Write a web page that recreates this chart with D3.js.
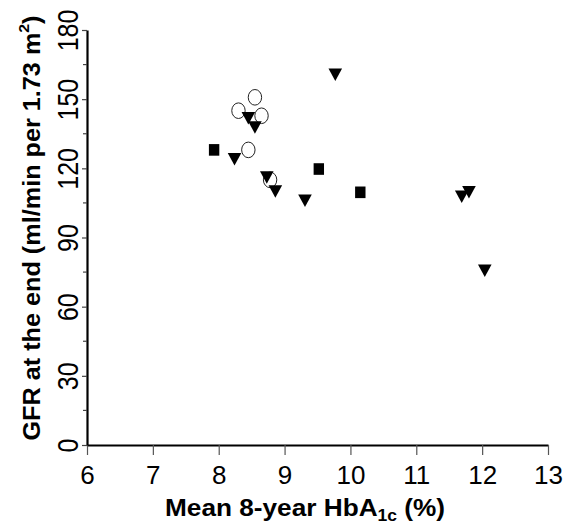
<!DOCTYPE html>
<html>
<head>
<meta charset="utf-8">
<script src="https://cdn.jsdelivr.net/npm/d3@7"></script>
<style>
  body { margin: 0; background: #fff; }
  svg { display: block; font-family: "Liberation Sans", Arial, sans-serif; }
</style>
</head>
<body>
<div id="chart"><svg width="563" height="523"></svg></div>
<script>
// open circles
const circleX = [8.55, 8.30, 8.65, 8.45, 8.78]
const circleY = [150.8, 145, 142.8, 128, 115]

// filled down triangles
const triX = [9.77, 8.45, 8.55, 8.24, 8.73, 8.86, 9.31, 11.69, 11.80, 12.04]
const triY = [160.9, 142, 138, 124.3, 116.4, 110.3, 106.3, 108, 110, 75.9]

// filled squares
const sqX = [7.93, 9.52, 10.15]
const sqY = [128, 119.7, 109.6]

const xTicks = [6, 7, 8, 9, 10, 11, 12, 13]
const yTicks = [0, 30, 60, 90, 120, 150, 180]
const yMinor = [15, 45, 75, 105, 135, 165]

const svg = d3.select('#chart svg')

const x = d3.scaleLinear().domain([6, 13]).range([87, 548])
const y = d3.scaleLinear().domain([0, 180]).range([445, 30])

// x axis
const xAxis = svg.append('g')
    .attr('transform', `translate(0,${y(0)})`)
    .call(d3.axisBottom(x).tickValues(xTicks).tickFormat(d3.format('d'))
        .tickSize(10).tickSizeOuter(0).tickPadding(11))
xAxis.select('.domain').attr('stroke', '#000').attr('stroke-width', 2.2)
xAxis.selectAll('.tick line').attr('stroke', '#555').attr('stroke-width', 1.2)
xAxis.selectAll('.tick text')
    .attr('fill', '#000')
    .style('font-size', '26px')

// y axis
const yAxis = svg.append('g')
    .attr('transform', `translate(${x(6)},0)`)
    .call(d3.axisLeft(y).tickValues(yTicks).tickFormat(d3.format('d'))
        .tickSize(5).tickSizeOuter(0))
yAxis.select('.domain').attr('stroke', '#000').attr('stroke-width', 2.2)
yAxis.selectAll('.tick line').attr('stroke', '#444').attr('stroke-width', 1.2)
yAxis.selectAll('.tick text')
    .attr('fill', '#000')
    .style('font-size', '25px')
    .attr('text-anchor', 'middle')
    .attr('x', null)
    .attr('dy', null)
    .attr('transform', 'translate(-9,0) rotate(-90) scale(1,1.15)')

svg.append('g')
    .selectAll('line')
    .data(yMinor)
    .join('line')
    .attr('x1', x(6) - 4)
    .attr('x2', x(6))
    .attr('y1', d => y(d))
    .attr('y2', d => y(d))
    .attr('stroke', '#444')
    .attr('stroke-width', 1.2)

// axis titles
svg.append('text')
    .attr('transform', 'translate(40,228) rotate(-90)')
    .attr('text-anchor', 'middle')
    .style('font-size', '24px')
    .style('font-weight', 'bold')
    .attr('textLength', 425)
    .attr('lengthAdjust', 'spacingAndGlyphs')
    .call(t => t.append('tspan').text('GFR at the end (ml/min per 1.73 m'))
    .call(t => t.append('tspan').text('2').attr('dy', -11).style('font-size', '15px'))
    .call(t => t.append('tspan').text(')').attr('dy', 11))

svg.append('text')
    .attr('x', 305)
    .attr('y', 516)
    .attr('text-anchor', 'middle')
    .style('font-size', '24px')
    .style('font-weight', 'bold')
    .attr('textLength', 280)
    .attr('lengthAdjust', 'spacingAndGlyphs')
    .call(t => t.append('tspan').text('Mean 8-year HbA'))
    .call(t => t.append('tspan').text('1c').attr('dy', 5).style('font-size', '16px'))
    .call(t => t.append('tspan').text(' (%)').attr('dy', -5))

// markers
svg.append('g')
    .selectAll('ellipse')
    .data(circleX)
    .join('ellipse')
    .attr('cx', d => x(d))
    .attr('cy', (d, i) => y(circleY[i]))
    .attr('rx', 6.7)
    .attr('ry', 7.8)
    .attr('fill', 'none')
    .attr('stroke', '#222')
    .attr('stroke-width', 1)

svg.append('g')
    .selectAll('rect')
    .data(sqX)
    .join('rect')
    .attr('x', d => x(d) - 5.2)
    .attr('y', (d, i) => y(sqY[i]) - 5.8)
    .attr('width', 10.4)
    .attr('height', 11.6)
    .attr('fill', '#000')

svg.append('g')
    .selectAll('path')
    .data(triX)
    .join('path')
    .attr('transform', (d, i) => `translate(${x(d)},${y(triY[i])})`)
    .attr('d', 'M-6.8,-5.5L6.8,-5.5L0,7Z')
    .attr('fill', '#000')
</script>
</body>
</html>
